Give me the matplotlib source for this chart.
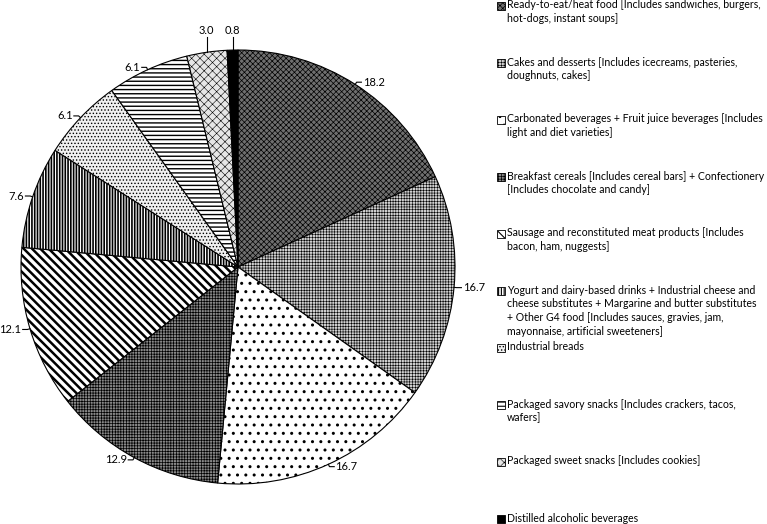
import matplotlib
matplotlib.use('Agg')
import matplotlib.pyplot as plt
from matplotlib.patches import Rectangle
import numpy as np

plt.rcParams['font.family'] = ['Lato', 'DejaVu Sans']
plt.rcParams['hatch.linewidth'] = 0.6

# Datos del gráfico (porcentajes)
categories = [
    'Ready-to-eat/heat food [Includes sandwiches, burgers,\nhot-dogs, instant soups]',
    'Cakes and desserts [Includes icecreams, pasteries,\ndoughnuts, cakes]',
    'Carbonated beverages + Fruit juice beverages [Includes\nlight and diet varieties]',
    'Breakfast cereals [Includes cereal bars] + Confectionery\n[Includes chocolate and candy]',
    'Sausage and reconstituted meat products [Includes\nbacon, ham, nuggests]',
    'Yogurt and dairy-based drinks + Industrial cheese and\ncheese substitutes + Margarine and butter substitutes\n+ Other G4 food [Includes sauces, gravies, jam,\nmayonnaise, artificial sweeteners]',
    'Industrial breads',
    'Packaged savory snacks [Includes crackers, tacos,\nwafers]',
    'Packaged sweet snacks [Includes cookies]',
    'Distilled alcoholic beverages',
]
values = [18.2, 16.7, 16.7, 12.9, 12.1, 7.6, 6.1, 6.1, 3.0, 0.8]
value_labels = ['18.2', '16.7', '16.7', '12.9', '12.1', '7.6', '6.1', '6.1', '3.0', '0.8']

# Estilo de relleno (blanco y negro con tramas)
faces = ['#6f6f6f', '#cfcfcf', 'white', '#888888', 'white',
         'white', '#f0f0f0', 'white', '#e6e6e6', 'black']
hatches = ['xxxxxx', '++++++', '..', '++++++', '\\\\\\\\', '||||||', '.....', '----', 'xxxx', None]
hatch_lw = [0.5, 0.4, 1.0, 0.5, 1.8, 1.2, 0.6, 1.0, 0.4, 0.5]

W, H = 767, 524
fig = plt.figure(figsize=(W / 100, H / 100), dpi=100)

# Eje del pastel: centro (238, 267), radio 217 px
cx, cy, r = 238, 267, 217
ax = fig.add_axes([(cx - r) / W, (H - cy - r) / H, 2 * r / W, 2 * r / H])
wedges, _ = ax.pie(values, startangle=90, counterclock=False, radius=1,
                   wedgeprops=dict(edgecolor='black', linewidth=0.8))


def estilo(p, fc, h, lw):
    p.set_facecolor(fc)
    if h:
        p.set_hatch(h)
        try:
            p.set_hatch_linewidth(lw)
        except AttributeError:
            pass


for w, fc, h, lw in zip(wedges, faces, hatches, hatch_lw):
    estilo(w, fc, h, lw)
ax.set_xlim(-1, 1)
ax.set_ylim(-1, 1)
ax.set_aspect('equal')
ax.axis('off')

# Etiquetas de valores con líneas guía
for w, lab in zip(wedges, value_labels):
    ang = np.deg2rad((w.theta1 + w.theta2) / 2)
    x0, y0 = np.cos(ang), np.sin(ang)
    x1, y1 = 1.012 * x0, 1.012 * y0
    if abs(x0) < 0.15:
        ax.plot([x0, x0], [y0, 1.06], color='black', lw=0.8, clip_on=False)
        ax.text(x0, 1.065, lab, ha='center', va='bottom', fontsize=8)
        continue
    side = 1 if x0 > 0 else -1
    ax.plot([x0, x1, x1 + side * 0.022], [y0, y1, y1], color='black', lw=0.8, clip_on=False)
    ax.text(x1 + side * 0.028, y1, lab, ha='left' if side > 0 else 'right',
            va='center', fontsize=8)

# Leyenda manual a la derecha
first_line_y = [6, 63, 120, 177, 234, 291, 348, 405, 462, 519]
box_x, text_x, bs = 497, 507, 8
for lab, yy, fc, h, lw in zip(categories, first_line_y, faces, hatches, hatch_lw):
    rect = Rectangle((box_x / W, (H - yy - bs / 2) / H), bs / W, bs / H,
                     transform=fig.transFigure, edgecolor='black', linewidth=0.6)
    estilo(rect, fc, h, min(lw, 0.8))
    fig.patches.append(rect)
    fig.text(text_x / W, (H - yy + 6.5) / H, lab, ha='left', va='top',
             fontsize=7.6, linespacing=1.3)

fig.savefig('out.png', dpi=100)
